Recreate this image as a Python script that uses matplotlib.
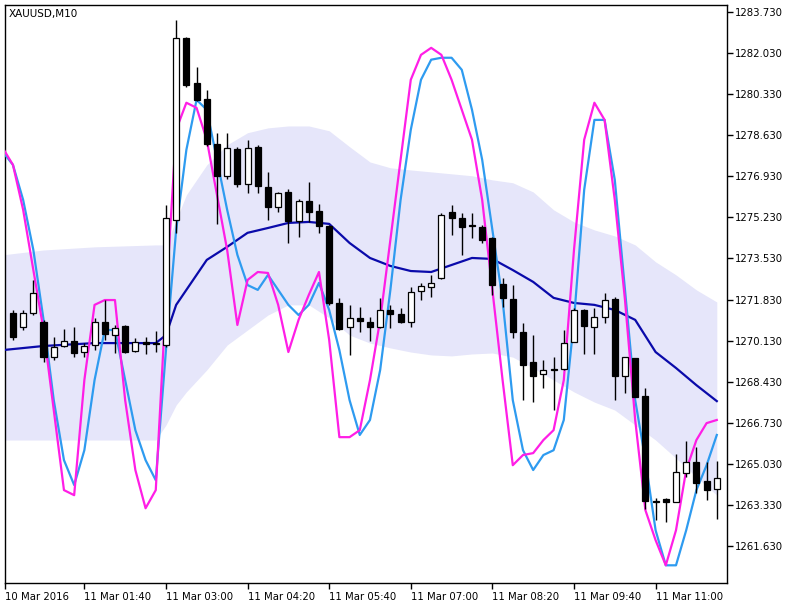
import matplotlib
matplotlib.use("Agg")
import matplotlib.pyplot as plt
import numpy as np

opens = [1271.27,1270.70,1271.27,1270.90,1269.45,1269.91,1270.12,1269.66,1269.95,1270.90,
         1270.36,1270.74,1269.70,1270.07,1270.03,1269.95,1275.12,1282.66,1280.79,1280.13,
         1278.27,1276.95,1278.06,1276.61,1278.15,1276.49,1275.66,1276.28,1275.08,1275.91,
         1275.50,1274.88,1271.69,1270.70,1271.07,1270.90,1270.70,1271.40,1271.23,1270.90,
         1272.19,1272.35,1272.72,1275.46,1275.21,1274.88,1274.83,1274.38,1272.48,1271.85,
         1270.49,1269.25,1268.75,1268.92,1268.96,1270.07,1271.40,1270.70,1271.11,1271.85,
         1268.67,1269.41,1267.84,1263.49,1263.58,1263.45,1264.65,1265.11,1264.32,1263.99]
highs = [1271.40,1271.40,1272.64,1270.99,1270.28,1270.61,1270.70,1270.03,1271.07,1271.81,
         1270.78,1270.78,1270.24,1270.28,1270.53,1275.75,1283.40,1282.70,1281.46,1280.50,
         1278.73,1278.73,1278.15,1278.44,1278.23,1277.11,1276.28,1276.41,1275.99,1276.70,
         1275.79,1274.90,1271.90,1271.61,1271.52,1271.11,1271.90,1271.61,1271.48,1272.35,
         1272.52,1272.85,1275.41,1275.75,1275.41,1275.41,1274.92,1274.40,1272.72,1272.43,
         1270.86,1270.36,1269.33,1269.45,1270.57,1271.48,1271.44,1271.48,1272.10,1271.94,
         1269.45,1269.43,1268.17,1263.62,1263.62,1265.44,1265.98,1265.73,1265.11,1265.15]
lows = [1270.16,1270.57,1271.20,1269.25,1269.33,1269.87,1269.45,1269.45,1269.74,1270.16,
        1269.62,1269.62,1269.66,1269.58,1269.66,1269.87,1274.59,1280.63,1280.05,1278.19,
        1274.96,1276.82,1276.49,1276.24,1276.24,1275.12,1275.46,1274.17,1274.42,1275.04,
        1274.59,1271.61,1270.57,1269.54,1270.49,1270.12,1270.65,1270.65,1270.86,1270.70,
        1271.81,1271.94,1272.70,1274.50,1273.68,1274.38,1274.17,1272.02,1271.52,1270.24,
        1267.67,1267.59,1268.17,1267.26,1268.92,1270.07,1269.58,1269.58,1270.86,1267.67,
        1267.96,1267.78,1263.16,1262.71,1262.62,1263.45,1264.49,1263.82,1263.53,1262.75]
closes = [1270.28,1271.27,1272.10,1269.45,1269.87,1270.12,1269.62,1269.91,1270.90,1270.41,
          1270.65,1269.66,1270.07,1269.99,1270.01,1275.21,1282.66,1280.71,1280.09,1278.27,
          1276.95,1278.10,1276.61,1278.10,1276.53,1275.66,1276.24,1275.08,1275.91,1275.46,
          1274.88,1271.69,1270.61,1271.07,1270.94,1270.70,1271.40,1271.23,1270.90,1272.14,
          1272.39,1272.52,1275.33,1275.21,1274.83,1274.86,1274.30,1272.43,1271.90,1270.49,
          1269.12,1268.67,1268.92,1268.90,1270.03,1271.40,1270.74,1271.11,1271.81,1268.67,
          1269.45,1267.80,1263.49,1263.47,1263.45,1264.69,1265.11,1264.24,1263.95,1264.45]

# oscillating lines, one value per bar starting one bar before the first candle
magenta_line = [1278.10,1277.40,1275.54,1273.05,1270.57,1267.26,1263.95,1263.74,1268.50,1271.61,
    1271.81,1271.81,1267.67,1264.78,1263.20,1263.95,1271.81,1278.85,1279.97,1279.76,
    1278.44,1276.16,1273.88,1270.78,1272.64,1272.97,1272.93,1271.61,1269.66,1270.99,
    1272.02,1272.97,1270.16,1266.14,1266.14,1266.43,1268.50,1270.99,1274.30,1277.61,
    1280.92,1281.95,1282.24,1281.95,1280.92,1279.68,1278.44,1275.95,1272.23,1268.50,
    1264.98,1265.40,1265.48,1266.02,1266.43,1268.50,1273.88,1278.44,1279.97,1279.26,
    1275.95,1271.81,1266.85,1263.12,1261.88,1260.84,1262.29,1264.78,1266.02,1266.72,1266.85]
blue_line = [1277.94,1277.40,1275.95,1273.88,1270.99,1267.67,1265.19,1264.16,1265.60,1268.50,
    1270.57,1270.57,1268.50,1266.43,1265.19,1264.36,1269.74,1274.71,1278.02,1280.09,
    1279.68,1277.61,1275.54,1273.68,1272.43,1272.23,1272.85,1272.23,1271.61,1271.19,
    1271.61,1272.52,1271.40,1269.74,1267.67,1266.23,1266.85,1268.92,1272.23,1275.95,
    1278.85,1280.92,1281.75,1281.83,1281.83,1281.33,1279.68,1277.61,1274.71,1271.81,
    1267.67,1265.60,1264.78,1265.40,1265.60,1266.85,1270.99,1276.37,1279.26,1279.26,
    1276.78,1272.23,1267.67,1265.19,1262.29,1260.84,1260.84,1262.29,1263.95,1264.98,1266.23]

# moving average and envelope, sampled at bar indices
band_idx = [-1,3,8,14,15,16,17,19,21,23,25,27,29,31,33,35,37,39,41,43,45,47,49,51,53,55,57,59,61,63,65,67,69]
ma = [1269.74,1269.91,1270.03,1270.03,1270.36,1271.61,1272.23,1273.47,1274.01,1274.59,1274.79,1275.00,
      1275.04,1274.96,1274.17,1273.55,1273.22,1273.01,1272.97,1273.26,1273.55,1273.51,1273.05,1272.56,
      1271.90,1271.69,1271.61,1271.40,1270.99,1269.66,1269.00,1268.29,1267.63]
band_up = [1273.68,1273.88,1274.01,1274.09,1274.09,1275.12,1276.16,1277.40,1278.23,1278.73,1278.93,1279.01,
           1279.01,1278.81,1278.15,1277.52,1277.28,1277.19,1277.11,1277.03,1276.95,1276.78,1276.66,1276.28,
           1275.54,1275.04,1274.71,1274.46,1274.09,1273.39,1272.85,1272.23,1271.73]
band_lo = [1266.02,1266.02,1266.02,1266.02,1266.64,1267.47,1268.01,1268.92,1269.95,1270.57,1271.19,1271.61,
           1271.61,1271.07,1270.36,1270.03,1269.83,1269.66,1269.54,1269.50,1269.58,1269.62,1269.45,1269.00,
           1268.50,1268.01,1267.59,1267.26,1266.64,1266.02,1265.27,1264.49,1263.74]

yticks = [1261.630,1263.330,1265.030,1266.730,1268.430,1270.130,1271.830,1273.530,
          1275.230,1276.930,1278.630,1280.330,1282.030,1283.730]
xtick_idx = [7,15,23,31,39,47,55,63]
xtick_labels = ["11 Mar 01:40","11 Mar 03:00","11 Mar 04:20","11 Mar 05:40",
                "11 Mar 07:00","11 Mar 08:20","11 Mar 09:40","11 Mar 11:00"]

fig = plt.figure(figsize=(8, 6), dpi=100)
ax = fig.add_axes([0.00625, 0.028, 0.9025, 0.964])

ax.fill_between(band_idx, band_lo, band_up, color="#E6E6FA", lw=0, zorder=1)
ax.plot(band_idx, ma, color="#0A0AAA", lw=1.6, zorder=4)
lx = np.arange(-1, len(magenta_line) - 1)
ax.plot(lx, blue_line, color="#2E9BF0", lw=1.6, zorder=4)
ax.plot(lx, magenta_line, color="#FF1EE6", lw=1.6, zorder=4)

w = 0.6
for i, (o, h, l, c) in enumerate(zip(opens, highs, lows, closes)):
    ax.vlines(i, l, h, color="black", lw=1, zorder=5)
    bottom = min(o, c)
    height = max(abs(c - o), 0.04)
    face = "white" if c > o else "black"
    ax.add_patch(plt.Rectangle((i - w / 2, bottom), w, height, facecolor=face,
                               edgecolor="black", lw=0.9, zorder=6))

ax.set_xlim(-0.78, 70.0)
ax.set_ylim(1260.10, 1284.02)
ax.yaxis.tick_right()
ax.set_yticks(yticks)
ax.set_yticklabels([f"{v:.3f}" for v in yticks])
ax.set_xticks([-0.78] + xtick_idx)
ax.set_xticklabels(["10 Mar 2016"] + xtick_labels, ha="left")
ax.tick_params(axis="both", labelsize=7.3, length=4, width=1, direction="out", pad=2)
for s in ax.spines.values():
    s.set_linewidth(1)
ax.text(0.005, 0.993, "XAUUSD,M10", transform=ax.transAxes, fontsize=7.5, va="top", ha="left")

fig.savefig("out.png", dpi=100)
